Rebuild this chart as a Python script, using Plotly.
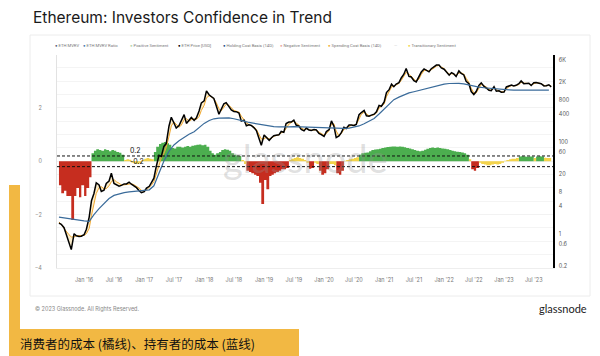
import pandas as pd
import plotly.graph_objects as go

# ---------------- data ----------------
PRICE_DATES = pd.date_range('2015-08-01', '2023-10-15', freq='SMS')

ETH_PRICE = [
    1.7, 1.6, 1.35, 0.93, 0.68, 0.45, 1.0, 0.9, 0.87, 0.88,
    0.95, 1.25, 2.3, 5.2, 7.5, 12.8, 11.5, 8.3, 8.8, 12.4, 14.0, 20.6,
    12.4, 11.6, 10.8, 11.2, 12.1, 12.1, 13.2, 11.9, 10.9, 10.0, 8.6, 7.8,
    8.2, 9.8, 10.7, 12.9, 16.1, 28.5, 50.6, 48, 79, 91, 220, 340,
    261, 198, 225, 285, 388, 250, 302, 336, 290, 331, 464, 697,
    772, 1270, 1036, 936, 869, 610, 397, 509, 670, 708, 580, 490,
    455, 450, 420, 280, 295, 222, 232, 225, 200, 175, 118, 84,
    140, 122, 107, 122, 135, 138, 141, 167, 160, 248, 268, 268,
    293, 230, 218, 185, 172, 198, 180, 175, 183, 180, 151, 142,
    130, 166, 183, 284, 218, 123, 134, 157, 206, 194, 231, 230,
    226, 238, 386, 430, 477, 365, 358, 378, 396, 447, 616, 590,
    730, 1170, 1370, 1780, 1570, 1790, 1920, 2430, 2940, 3900, 2630, 2550,
    2110, 1990, 2550, 3270, 3830, 3610, 3310, 3870, 4320, 4630, 4630, 4020,
    3770, 3330, 2790, 3180, 2970, 2620, 3460, 3040, 2830, 2060, 1820, 1230,
    1060, 1230, 1680, 1900, 1590, 1470, 1310, 1280, 1570, 1250, 1280, 1190,
    1200, 1550, 1640, 1700, 1630, 1680, 1820, 2090, 1830, 1820, 1860, 1670,
    1920, 1930, 1860, 1820, 1630, 1640, 1730, 1560,
]

SPENDING_COST_BASIS = [
    1.8, 1.6, 1.3, 1.1, 0.95, 0.85, 0.85, 0.9, 0.9, 0.9,
    0.92, 1.0, 1.3, 2.5, 4.5, 7.5, 10, 10.5, 9.5, 9.5, 11, 13.5,
    15, 13.5, 12.5, 11.5, 11.5, 11.8, 12.3, 12.2, 11.5, 10.8, 9.8, 8.8,
    8.3, 8.9, 10, 11.5, 13.5, 19, 32, 44, 55, 75, 130, 220,
    270, 240, 205, 230, 300, 320, 280, 300, 315, 305, 350, 480,
    620, 900, 1000, 930, 860, 720, 520, 470, 560, 650, 620, 540,
    480, 460, 440, 360, 300, 260, 235, 225, 210, 185, 145, 115,
    115, 125, 115, 118, 130, 137, 140, 155, 162, 200, 240, 260,
    280, 255, 230, 200, 185, 190, 185, 178, 180, 180, 162, 148,
    138, 150, 175, 240, 245, 170, 135, 150, 185, 195, 215, 228,
    228, 235, 310, 395, 440, 400, 365, 370, 385, 420, 540, 585,
    660, 950, 1250, 1550, 1620, 1700, 1850, 2150, 2650, 3200, 2950, 2600,
    2250, 2050, 2300, 2900, 3500, 3600, 3400, 3600, 4000, 4400, 4550, 4200,
    3900, 3400, 2950, 3000, 2950, 2750, 3100, 3150, 2950, 2400, 1950, 1450,
    1150, 1150, 1450, 1750, 1650, 1550, 1380, 1300, 1450, 1350, 1260, 1230,
    1210, 1400, 1580, 1650, 1640, 1650, 1750, 1950, 1880, 1830, 1840, 1720,
    1850, 1900, 1880, 1830, 1680, 1640, 1680, 1620,
]

HOLD_DATES = pd.date_range('2015-08-01', '2023-10-01', freq='MS')
HOLDING_COST_BASIS = [
    2.3, 2.2, 2.1, 2.0, 1.95,
    1.9, 1.85, 2.6, 3.5, 4.5, 5.8, 6.8, 7.4, 7.8, 8.1, 8.4, 8.6,
    8.8, 9.0, 11, 20, 38, 62, 85, 105, 125, 145, 165, 200,
    250, 290, 315, 325, 330, 328, 315, 300, 280, 262, 250, 235,
    225, 218, 213, 210, 208, 210, 212, 210, 206, 203, 201, 199,
    197, 197, 196, 195, 195, 197, 205, 220, 245, 275, 320, 400,
    520, 680, 820, 930, 1050, 1150, 1220, 1300, 1400, 1500, 1600, 1700,
    1780, 1840, 1860, 1850, 1800, 1700, 1600, 1540, 1490, 1450, 1420, 1390,
    1360, 1340, 1320, 1310, 1300, 1300, 1310, 1320, 1320, 1320,
]

# investor sentiment oscillator (same dates as price)
SENTIMENT = [
    -0.9, -1.2, -1.1, -1.3, -1.3, -2.2, -1.3, -1.0, -1.35, -0.9, -1.3, -1.0, -0.6,
    0.3, 0.4, 0.45, 0.42, 0.4, 0.45, 0.42, 0.38, 0.42, 0.4, 0.35, 0.32, 0.25,
    0.05, 0.08, 0.06, -0.05, -0.08, -0.1, -0.06, 0.05, 0.1, 0.12, 0.1, 0.08,
    0.35, 0.55, 0.65, 0.7, 0.72, 0.68, 0.62, 0.5, 0.48, 0.55, 0.55, 0.52,
    0.55, 0.57, 0.55, 0.58, 0.6, 0.62, 0.63, 0.6, 0.62, 0.55, 0.4, 0.3,
    0.25, 0.3, 0.35, 0.42, 0.45, 0.43, 0.4, 0.3, 0.25, 0.22, 0.2,
    0.05, -0.1,
    -0.35, -0.4, -0.45, -0.5, -0.55, -0.8, -1.6, -0.7, -1.05, -0.55, -0.5,
    -0.45, -0.4, -0.35, -0.3, -0.3, -0.25,
    0.05, 0.1, 0.12, 0.15, 0.12, 0.1, 0.05, -0.05,
    -0.28, -0.25,
    -0.05, -0.1,
    -0.35, -0.5, -0.45, -0.3,
    -0.1, -0.1, -0.15,
    -0.45, -0.5, -0.35,
    0.02, 0.05, 0.08, 0.1, 0.12, 0.15,
    0.25, 0.3, 0.32, 0.33, 0.38, 0.42, 0.44, 0.45, 0.47, 0.5,
    0.52, 0.54, 0.55, 0.56, 0.56, 0.55, 0.56, 0.55, 0.53, 0.5,
    0.48, 0.45, 0.42, 0.4, 0.38, 0.4, 0.43, 0.47, 0.5, 0.52,
    0.5, 0.52, 0.5, 0.48, 0.47, 0.45, 0.42, 0.4, 0.38, 0.36,
    0.35, 0.33, 0.3, 0.25,
    0.08,
    -0.3, -0.35, -0.25,
    -0.05, -0.1, -0.12, -0.15, -0.15, -0.12, -0.1, -0.12, -0.1, -0.05,
    0.02, 0.05, 0.08, 0.1, 0.1, 0.12,
    0.18, 0.19, 0.18, 0.17, 0.18, 0.18,
    0.12,
    0.18, 0.19, 0.18,
    0.13, 0.12, 0.12, 0.1,
]

# sentiment state per point: P positive, N negative, T transitionary (run lengths)
SENTIMENT_STATE_RUNS = [
    ('N', 13), ('P', 13), ('T', 12), ('P', 35), ('T', 2), ('N', 17), ('T', 8),
    ('N', 2), ('T', 2), ('N', 4), ('T', 3), ('N', 3), ('T', 6), ('P', 44),
    ('T', 1), ('N', 3), ('T', 16), ('P', 6), ('T', 1), ('P', 3), ('T', 4),
]

THRESHOLDS = [0.2, -0.2]

LEFT_TICKS = [-4, -2, 0, 2]
RIGHT_TICKS = [0.2, 0.6, 1, 4, 8, 20, 60, 100, 400, 800, 2000, 6000]
RIGHT_TICK_TEXT = ['0.2', '0.6', '1', '4', '8', '20', '60', '100', '400', '800', '2K', '6K']

LEGEND_ITEMS = [
    ('ETH MVRV', '#5c6480'),
    ('ETH MVRV Ratio', '#4a7ab0'),
    ('Positive Sentiment', '#b5d6ad'),
    ('ETH Price [USD]', '#000000'),
    ('Holding Cost Basis (14D)', '#1f4e89'),
    ('Negative Sentiment', '#eaa8a0'),
    ('Spending Cost Basis (14D)', '#f0b030'),
    ('', '#bbbbbb'),
    ('Transitionary Sentiment', '#f2d54a'),
]
LEGEND_X_PX = [53, 81, 128, 176, 221, 278, 326, 392, 406]

# ---------------- build ----------------
states = ''.join(s * n for s, n in SENTIMENT_STATE_RUNS)
n = min(len(PRICE_DATES), len(ETH_PRICE), len(SPENDING_COST_BASIS), len(SENTIMENT), len(states))
dates = PRICE_DATES[:n]
nh = min(len(HOLD_DATES), len(HOLDING_COST_BASIS))

FONT = 'Inter, Roboto, sans-serif'
GREEN = '#4cae4f'
RED = '#c62d1f'
YELLOW = '#f3d34a'

fig = go.Figure()

for key, name, color in [('P', 'Positive Sentiment', GREEN),
                         ('N', 'Negative Sentiment', RED),
                         ('T', 'Transitionary Sentiment', YELLOW)]:
    yv = [SENTIMENT[i] if states[i] == key else 0 for i in range(n)]
    fig.add_trace(go.Scatter(
        x=dates, y=yv, name=name, mode='lines', line=dict(width=0, shape='hv'),
        fill='tozeroy', fillcolor=color, yaxis='y', hoverinfo='skip', showlegend=False))

fig.add_trace(go.Scatter(
    x=dates, y=SPENDING_COST_BASIS[:n], name='Spending Cost Basis (14D)', mode='lines',
    line=dict(color='#f0a830', width=1), yaxis='y2', showlegend=False))
fig.add_trace(go.Scatter(
    x=dates, y=ETH_PRICE[:n], name='ETH Price [USD]', mode='lines',
    line=dict(color='#000000', width=1.5), fill='tonexty',
    fillcolor='rgba(245,205,110,0.35)', yaxis='y2', showlegend=False))
fig.add_trace(go.Scatter(
    x=HOLD_DATES[:nh], y=HOLDING_COST_BASIS[:nh], name='Holding Cost Basis (14D)', mode='lines',
    line=dict(color='#3a6b9a', width=1.2), yaxis='y2', showlegend=False))

# The page body has an 8px margin, so the figure is drawn 8px smaller and
# all screen-pixel positions below are given in screen pixels.
OFF = 8
W, H = 600 - OFF, 356 - OFF
# plot area in screen pixels: x 57..553, y 55..268
L, R, T, B = 57, 553, 55, 268
def px(xp):
    return (xp - L) / (R - L)
def py(yp):
    return (B - yp) / (B - T)

shapes = [
    # card
    dict(type='rect', xref='paper', yref='paper', x0=px(30), x1=px(590), y0=py(296), y1=py(35),
         line=dict(color='#ececec', width=1), fillcolor='white', layer='below'),
    # yellow decoration
    dict(type='rect', xref='paper', yref='paper', x0=px(9), x1=px(20), y0=py(360), y1=py(185),
         line=dict(width=0), fillcolor='#f2b843', layer='below'),
    dict(type='rect', xref='paper', yref='paper', x0=px(9), x1=px(299), y0=py(360), y1=py(329),
         line=dict(width=0), fillcolor='#f2b843', layer='below'),
]
for th in THRESHOLDS:
    shapes.append(dict(type='line', xref='paper', yref='y', x0=0, x1=1, y0=th, y1=th,
                       line=dict(color='#111111', width=1, dash='3px,2px')))

annotations = [
    dict(text='glassnode', xref='paper', yref='paper', x=px(305), y=py(158), showarrow=False,
         font=dict(family='Lato, sans-serif', size=38, color='rgba(150,150,150,0.3)')),
    dict(text='0.2', xref='x', yref='y', x='2016-11-10', y=THRESHOLDS[0], yshift=5, showarrow=False,
         font=dict(family=FONT, size=7, color='#111')),
    dict(text='-0.2', xref='x', yref='y', x='2016-11-20', y=THRESHOLDS[1], yshift=5, showarrow=False,
         font=dict(family=FONT, size=7, color='#111')),
    dict(text='© 2023 Glassnode. All Rights Reserved.', xref='paper', yref='paper',
         x=px(33), y=py(308), xanchor='left', yanchor='middle', showarrow=False,
         font=dict(family=FONT, size=5.5, color='#888')),
    dict(text='glassnode', xref='paper', yref='paper', x=px(589), y=py(308),
         xanchor='right', yanchor='middle', showarrow=False,
         font=dict(family='Lato, sans-serif', size=11, color='#222')),
    dict(text='消费者的成本 (橘线)、持有者的成本 (蓝线)', xref='paper', yref='paper',
         x=px(18), y=py(343), xanchor='left', yanchor='middle', showarrow=False,
         font=dict(family='Noto Sans CJK SC', size=12.5, color='#111')),
]
for (label, color), xp in zip(LEGEND_ITEMS, LEGEND_X_PX):
    marker = '—' if label == '' else '●'
    annotations.append(dict(
        text=f"<span style='color:{color}'>{marker}</span> {label}", xref='paper', yref='paper',
        x=px(xp), y=py(45), xanchor='left', yanchor='middle', showarrow=False,
        font=dict(family='Roboto, sans-serif', size=4.2, color='#777')))

fig.update_layout(
    width=W, height=H,
    margin=dict(l=L - OFF, r=W - (R - OFF), t=T - OFF, b=H - (B - OFF), pad=0),
    paper_bgcolor='white', plot_bgcolor='rgba(0,0,0,0)',
    title=dict(text='Ethereum: Investors Confidence in Trend', x=(33 - OFF) / W, xanchor='left',
               xref='container', y=1 - (18 - OFF) / H, yanchor='middle', yref='container',
               font=dict(family=FONT, size=15.5, color='#1a1a1a')),
    showlegend=False,
    shapes=shapes,
    annotations=annotations,
    xaxis=dict(type='date', range=['2015-07-20', '2023-10-26'], tickformat="%b '%y",
               dtick='M6', tick0='2016-01-01', showgrid=False, zeroline=False,
               showline=True, linecolor='#eeeeee', ticks='outside', ticklen=6,
               tickcolor='rgba(0,0,0,0)', tickfont=dict(family=FONT, size=5.5, color='#777')),
    yaxis=dict(range=[-4.0, 3.986], tickvals=LEFT_TICKS, showgrid=True, gridcolor='#f2f2f2',
               minor=dict(dtick=0.5, showgrid=True, gridcolor='#f4f4f4'),
               zeroline=False, showline=True, linecolor='#e2e2e2', ticks='outside', ticklen=13,
               tickcolor='rgba(0,0,0,0)', tickfont=dict(family=FONT, size=5.5, color='#888')),
    yaxis2=dict(type='log', range=[-0.746, 3.885], overlaying='y', side='right',
                tickvals=RIGHT_TICKS, ticktext=RIGHT_TICK_TEXT, showgrid=False, zeroline=False,
                showline=True, linecolor='#000000', linewidth=1.5, ticks='outside', ticklen=3,
                tickcolor='rgba(0,0,0,0)', tickfont=dict(family=FONT, size=5.5, color='#555')),
)

fig.write_html('out.html')
